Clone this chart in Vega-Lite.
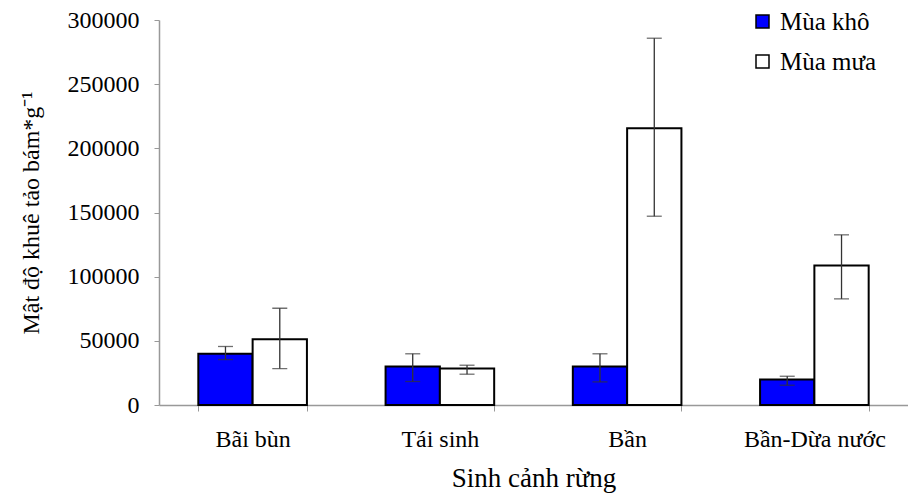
{
  "$schema": "https://vega.github.io/schema/vega-lite/v6.json",
  "autosize": {"type": "none"},
  "width": 749,
  "height": 385,
  "padding": {"left": 159, "top": 20, "right": 0, "bottom": 91},
  "background": "white",
  "config": {
    "font": "Liberation Serif, Times New Roman, serif",
    "view": {"stroke": null},
    "axis": {"labelFont": "Liberation Serif, Times New Roman, serif", "titleFont": "Liberation Serif, Times New Roman, serif", "labelColor": "#000", "titleColor": "#000", "titleFontWeight": "normal", "domainColor": "#999", "tickColor": "#999", "grid": false},
    "legend": {"labelFont": "Liberation Serif, Times New Roman, serif", "titleFont": "Liberation Serif, Times New Roman, serif"}
  },
  "data": {
    "values": [
      {"site": "Bãi bùn", "season": "Mùa khô", "value": 40000, "lo": 35400, "hi": 45600},
      {"site": "Bãi bùn", "season": "Mùa mưa", "value": 51300, "lo": 28400, "hi": 75400},
      {"site": "Tái sinh", "season": "Mùa khô", "value": 30000, "lo": 18300, "hi": 39900},
      {"site": "Tái sinh", "season": "Mùa mưa", "value": 28400, "lo": 24000, "hi": 31000},
      {"site": "Bần", "season": "Mùa khô", "value": 30000, "lo": 18000, "hi": 39900},
      {"site": "Bần", "season": "Mùa mưa", "value": 215600, "lo": 147100, "hi": 285800},
      {"site": "Bần-Dừa nước", "season": "Mùa khô", "value": 19900, "lo": 15400, "hi": 22400},
      {"site": "Bần-Dừa nước", "season": "Mùa mưa", "value": 108700, "lo": 82700, "hi": 132600}
    ]
  },
  "encoding": {
    "x": {
      "field": "site", "type": "nominal", "sort": null,
      "scale": {"paddingInner": 0.42, "paddingOuter": 0.21},
      "axis": {"labelAngle": 0, "labelFontSize": 24, "title": "Sinh cảnh rừng", "titleFontSize": 27, "tickBand": "extent", "tickSize": 6, "labelPadding": 16, "titlePadding": 14, "domainWidth": 1.5}
    },
    "xOffset": {"field": "season", "type": "nominal", "sort": ["Mùa khô", "Mùa mưa"], "scale": {"paddingInner": 0, "paddingOuter": 0}}
  },
  "layer": [
    {
      "mark": {"type": "bar", "stroke": "#000", "strokeWidth": 2},
      "encoding": {
        "y": {
          "field": "value", "type": "quantitative",
          "scale": {"domain": [0, 300000], "nice": false},
          "axis": {"values": [0, 50000, 100000, 150000, 200000, 250000, 300000], "format": "d", "labelFontSize": 24, "tickSize": 5, "labelPadding": 15, "title": "Mật độ khuê tảo bám*g⁻¹", "titleFontSize": 24, "titlePadding": 24, "domainWidth": 1.5}
        },
        "fill": {
          "field": "season", "type": "nominal",
          "scale": {"domain": ["Mùa khô", "Mùa mưa"], "range": ["#0000FF", "#FFFFFF"]},
          "legend": {"title": null, "orient": "none", "legendX": 591, "legendY": -11, "symbolType": "square", "symbolSize": 169, "symbolStrokeColor": "#000", "symbolStrokeWidth": 1.5, "labelFontSize": 25, "labelColor": "#000", "rowPadding": 14, "labelOffset": 5}
        }
      }
    },
    {
      "mark": {"type": "rule", "color": "#333", "strokeWidth": 1.3},
      "encoding": {"y": {"field": "lo", "type": "quantitative"}, "y2": {"field": "hi"}}
    },
    {
      "mark": {"type": "tick", "color": "#333", "size": 15, "thickness": 1.3},
      "encoding": {"y": {"field": "hi", "type": "quantitative"}}
    },
    {
      "mark": {"type": "tick", "color": "#333", "size": 15, "thickness": 1.3},
      "encoding": {"y": {"field": "lo", "type": "quantitative"}}
    }
  ]
}
